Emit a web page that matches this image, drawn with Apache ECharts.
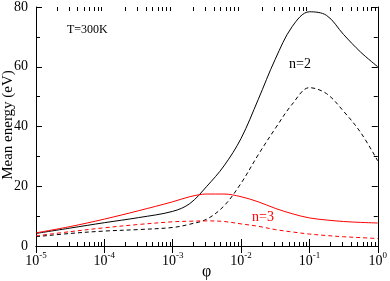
<!DOCTYPE html>
<html>
<head>
<meta charset="utf-8">
<script src="https://cdn.jsdelivr.net/npm/echarts@6/dist/echarts.min.js"></script>
<style>html,body{margin:0;padding:0;background:#fff;}#c{width:390px;height:281px;}</style>
</head>
<body>
<div id="c"></div>
<script>
// ---- data ----
const phi = [1e-5, 3.16e-5, 1e-4, 3.16e-4, 1e-3, 1.78e-3, 3.16e-3, 5.62e-3, 1e-2, 1.78e-2, 3.16e-2, 5.62e-2, 1e-1, 1.78e-1, 3.16e-1, 5.62e-1, 1];
const n2Solid = [4.2, 6.0, 7.8, 9.5, 11.6, 14.2, 20.0, 26.8, 36.0, 49.0, 62.5, 73.5, 78.4, 77.2, 70.8, 64.9, 60.0];
const n2Dash  = [3.1, 4.2, 5.0, 5.5, 6.2, 7.3, 9.0, 13.4, 21.0, 30.5, 39.3, 47.5, 53.0, 51.0, 45.1, 38.0, 28.5];
const n3Solid = [4.4, 6.5, 9.0, 11.8, 14.8, 16.5, 17.4, 17.4, 16.5, 14.8, 12.6, 10.8, 9.4, 8.7, 8.2, 7.9, 7.7];
const n3Dash  = [3.4, 4.8, 6.1, 7.2, 8.1, 8.3, 8.4, 8.2, 7.4, 6.6, 5.5, 4.7, 4.0, 3.5, 3.1, 2.8, 2.5];

const xExponents = ['-5', '-4', '-3', '-2', '-1', '0'];
const yTicks = [0, 20, 40, 60, 80];

// minor tick positions of the log axis (2..9 x each decade)
const minorTickVals = [];
for (let d = -5; d < 0; d++) {
  for (let m = 2; m <= 9; m++) minorTickVals.push([m * Math.pow(10, d), 0]);
}

const zip = (xs, ys) => xs.map((x, i) => [x, ys[i]]);
const FONT = 'Liberation Serif, Times New Roman, serif';

const chart = echarts.init(document.getElementById('c'), null, {renderer: 'canvas'});
const axisLine = {show: true, lineStyle: {color: '#000', width: 1}};

chart.setOption({
  animation: false,
  backgroundColor: '#fff',
  grid: {left: 36, right: 11, top: 5, bottom: 35, containLabel: false},
  xAxis: [{
    type: 'log', logBase: 10, min: 1e-5, max: 1, position: 'bottom',
    axisLine: axisLine,
    axisTick: {show: true, inside: true, length: 7, lineStyle: {color: '#000'}},
    splitLine: {show: false},
    axisLabel: {
      margin: 5,
      formatter: function (v) {
        const i = Math.round(Math.log10(v)) + 5;
        return '{b|10}{s|' + xExponents[i] + '}';
      },
      rich: {
        b: {fontFamily: FONT, fontSize: 14, color: '#000', padding: [3, 0, 0, 0]},
        s: {fontFamily: FONT, fontSize: 9, color: '#000', verticalAlign: 'top'}
      }
    }
  }, {
    type: 'log', logBase: 10, min: 1e-5, max: 1, position: 'top',
    axisLine: axisLine,
    axisTick: {show: true, inside: true, length: 7, lineStyle: {color: '#000'}},
    axisLabel: {show: false},
    splitLine: {show: false}
  }],
  yAxis: [{
    type: 'value', min: 0, max: 80, interval: 20, position: 'left',
    axisLine: axisLine,
    axisTick: {show: true, inside: true, length: 6, lineStyle: {color: '#000'}},
    minorTick: {show: true, splitNumber: 2, length: 4, lineStyle: {color: '#000'}},
    splitLine: {show: false},
    axisLabel: {margin: 8, fontFamily: FONT, fontSize: 14, color: '#000',
      formatter: v => String(yTicks[yTicks.indexOf(v)])}
  }, {
    type: 'value', min: 0, max: 80, interval: 20, position: 'right',
    axisLine: axisLine,
    axisTick: {show: true, inside: true, length: 6, lineStyle: {color: '#000'}},
    minorTick: {show: true, splitNumber: 2, length: 4, lineStyle: {color: '#000'}},
    splitLine: {show: false},
    axisLabel: {show: false}
  }],
  series: [
    {type: 'line', data: zip(phi, n2Solid), showSymbol: false, smooth: 0.35,
      lineStyle: {color: '#000', width: 1}, itemStyle: {color: '#000'}},
    {type: 'line', data: zip(phi, n2Dash), showSymbol: false, smooth: 0.35,
      lineStyle: {color: '#000', width: 1, type: [4, 3]}, itemStyle: {color: '#000'}},
    {type: 'line', data: zip(phi, n3Solid), showSymbol: false, smooth: 0.35,
      lineStyle: {color: '#ff0000', width: 1}, itemStyle: {color: '#ff0000'}},
    {type: 'line', data: zip(phi, n3Dash), showSymbol: false, smooth: 0.35,
      lineStyle: {color: '#ff0000', width: 1, type: [4, 3]}, itemStyle: {color: '#ff0000'}},
    {type: 'custom', data: minorTickVals, clip: false, silent: true,
      renderItem: function (params, api) {
        const v = api.value(0);
        const pb = api.coord([v, 0]);
        const pt = api.coord([v, 80]);
        const x = Math.round(pb[0]) + 0.5;
        return {type: 'group', children: [
          {type: 'line', shape: {x1: x, y1: pb[1], x2: x, y2: pb[1] - 4}, style: {stroke: '#000', lineWidth: 1}},
          {type: 'line', shape: {x1: x, y1: pt[1], x2: x, y2: pt[1] + 4}, style: {stroke: '#000', lineWidth: 1}}
        ]};
      }}
  ],
  graphic: [
    {type: 'text', left: 67, top: 24, style: {text: 'T=300K', fontFamily: FONT, fontSize: 12, fill: '#000'}},
    {type: 'text', left: 289, top: 57, style: {text: 'n=2', fontFamily: FONT, fontSize: 14, fill: '#000'}},
    {type: 'text', left: 252, top: 210, style: {text: 'n=3', fontFamily: FONT, fontSize: 14, fill: '#ff0000'}},
    {type: 'text', x: 8, y: 125, rotation: Math.PI / 2,
      style: {text: 'Mean energy (eV)', fontFamily: FONT, fontSize: 15, fill: '#000', align: 'center', verticalAlign: 'middle'}},
    {type: 'text', left: 202, top: 264, style: {text: 'φ', fontFamily: FONT, fontSize: 16, fill: '#000'}}
  ]
});
</script>
</body>
</html>
